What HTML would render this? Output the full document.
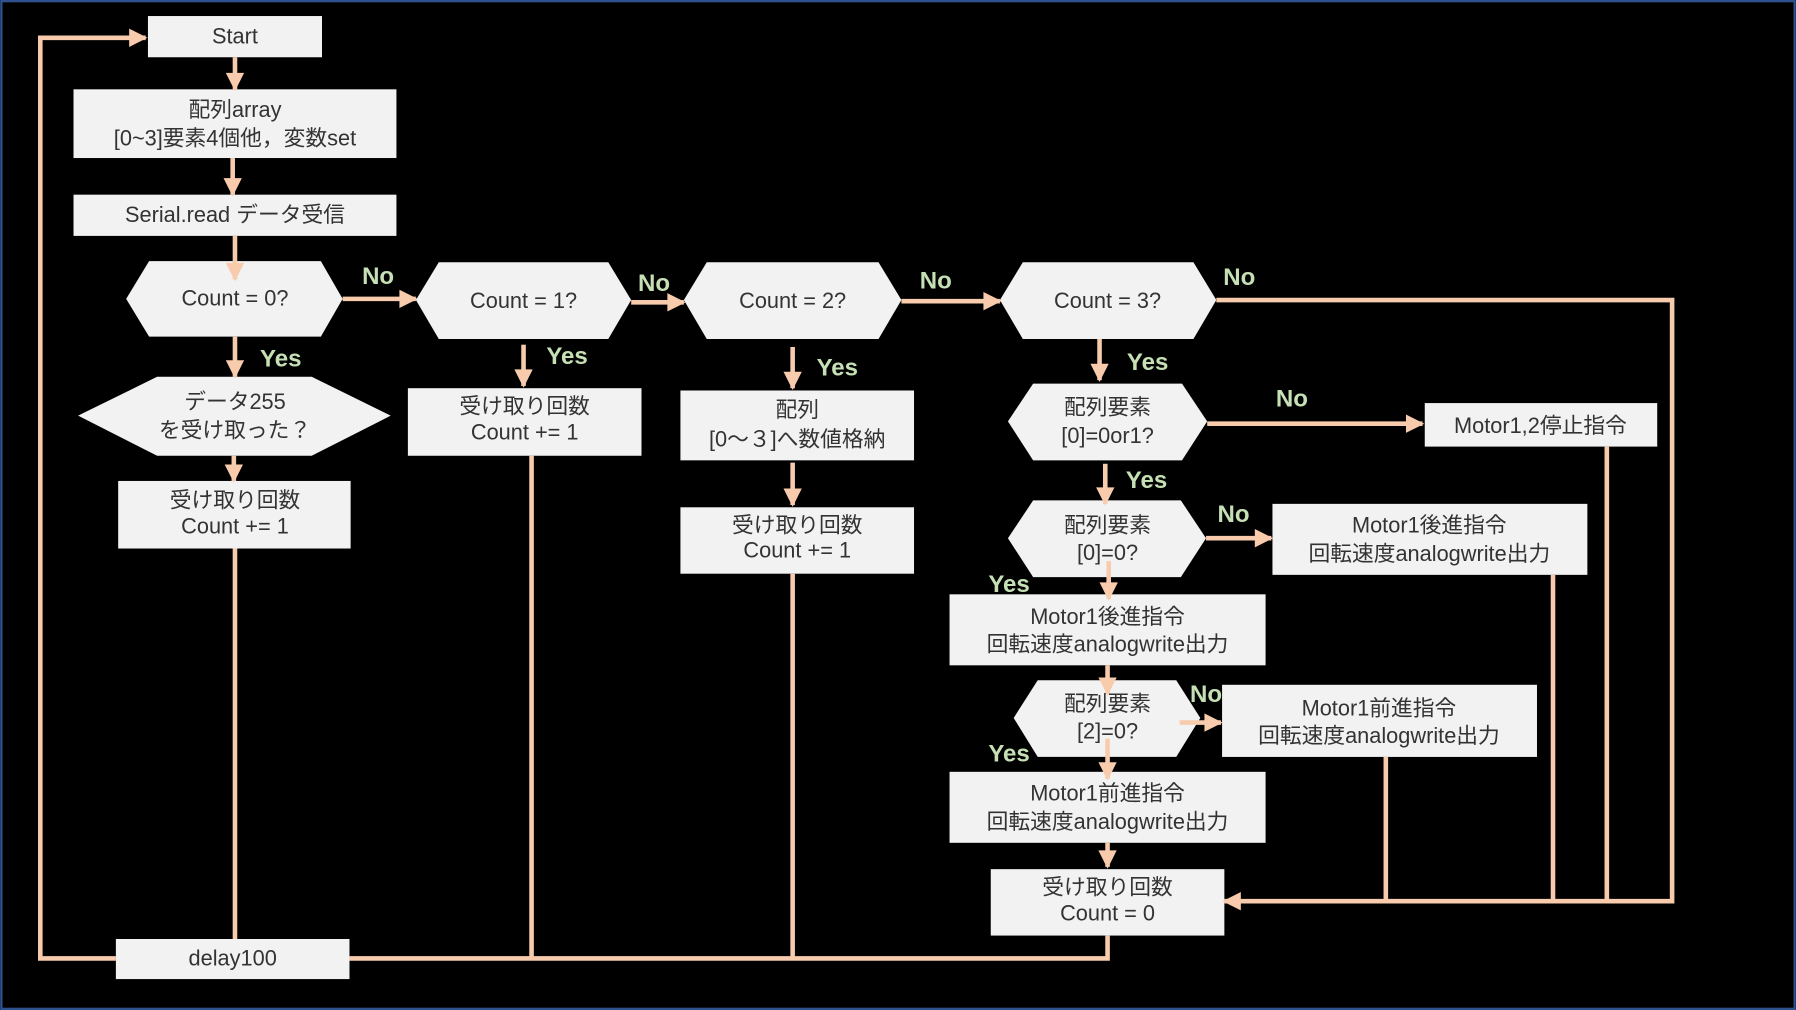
<!DOCTYPE html>
<html><head><meta charset="utf-8"><style>
html,body{margin:0;padding:0;background:#000;}
svg{display:block;}
text{font-family:"Liberation Sans","Noto Sans CJK JP",sans-serif;fill:#333;font-size:19px;text-anchor:middle;}
.l{fill:#C5E0B4;font-weight:bold;font-size:21px;}
</style></head><body>
<svg width="1796" height="1010" viewBox="0 0 1568 882" xmlns="http://www.w3.org/2000/svg">
<defs>
<marker id="b" viewBox="0 0 10 10" refX="9" refY="5" markerWidth="18" markerHeight="16" markerUnits="userSpaceOnUse" orient="auto"><path d="M0,0L10,5L0,10z" fill="#F8CBAD"/></marker></defs>
<rect x="1" y="1" width="1566" height="880" fill="#000" stroke="#2F528F" stroke-width="2"/>
<g fill="#F2F2F2">
<rect x="129" y="14" width="152" height="36"/>
<rect x="64" y="78" width="282" height="60"/>
<rect x="64" y="170" width="282" height="36"/>
<polygon points="110,261 130,228 280,228 299,261 280,294 130,294"/>
<polygon points="363,262 383,229 531,229 551,262 531,296 383,296"/>
<polygon points="597,262 617,229 767,229 787,262 767,296 617,296"/>
<polygon points="873,262 893,229 1042,229 1062,262 1042,296 893,296"/>
<polygon points="68,363 137,329 272,329 341,363 272,398 137,398"/>
<rect x="103" y="420" width="203" height="59"/>
<rect x="101" y="820" width="204" height="35"/>
<rect x="356" y="339" width="204" height="59"/>
<rect x="594" y="341" width="204" height="61"/>
<rect x="594" y="443" width="204" height="58"/>
<polygon points="880,368 902,335 1032,335 1054,368 1032,402 902,402"/>
<polygon points="880,470 902,437 1031,437 1053,470 1031,504 902,504"/>
<rect x="829" y="519" width="276" height="62"/>
<polygon points="885,627 906,594 1027,594 1048,627 1027,661 906,661"/>
<rect x="829" y="674" width="276" height="62"/>
<rect x="865" y="759" width="204" height="58"/>
<rect x="1244" y="352" width="203" height="38"/>
<rect x="1111" y="440" width="275" height="62"/>
<rect x="1067" y="598" width="275" height="63"/>
</g>
<g stroke="#F8CBAD" stroke-width="4" fill="none">
<polyline points="101,837 35,837 35,33 127,33" marker-end="url(#b)"/>
<line x1="205" y1="50" x2="205" y2="78" marker-end="url(#b)"/>
<line x1="203" y1="138" x2="203" y2="170" marker-end="url(#b)"/>
<line x1="205" y1="206" x2="205" y2="244" marker-end="url(#b)"/>
<line x1="299" y1="261" x2="363" y2="261" marker-end="url(#b)"/>
<line x1="551" y1="264" x2="597" y2="264" marker-end="url(#b)"/>
<line x1="787" y1="263" x2="873" y2="263" marker-end="url(#b)"/>
<polyline points="1062,262 1460,262 1460,787 1069,787" marker-end="url(#b)"/>
<line x1="205" y1="294" x2="205" y2="329" marker-end="url(#b)"/>
<line x1="204" y1="398" x2="204" y2="420" marker-end="url(#b)"/>
<line x1="205" y1="479" x2="205" y2="820"/>
<line x1="457" y1="301" x2="457" y2="337" marker-end="url(#b)"/>
<line x1="464" y1="398" x2="464" y2="837"/>
<line x1="692" y1="303" x2="692" y2="339" marker-end="url(#b)"/>
<line x1="692" y1="404" x2="692" y2="441" marker-end="url(#b)"/>
<line x1="692" y1="501" x2="692" y2="837"/>
<polyline points="305,837 967,837 967,817"/>
<line x1="960" y1="296" x2="960" y2="332" marker-end="url(#b)"/>
<line x1="1054" y1="370" x2="1242" y2="370" marker-end="url(#b)"/>
<line x1="965" y1="405" x2="965" y2="440" marker-end="url(#b)"/>
<line x1="1053" y1="470" x2="1110" y2="470" marker-end="url(#b)"/>
<line x1="968" y1="490" x2="968" y2="523" marker-end="url(#b)"/>
<line x1="967" y1="581" x2="967" y2="606" marker-end="url(#b)"/>
<line x1="1030" y1="631" x2="1066" y2="631" marker-end="url(#b)"/>
<line x1="967" y1="645" x2="967" y2="680" marker-end="url(#b)"/>
<line x1="967" y1="736" x2="967" y2="757" marker-end="url(#b)"/>
<line x1="1403" y1="390" x2="1403" y2="787"/>
<line x1="1356" y1="502" x2="1356" y2="787"/>
<line x1="1210" y1="661" x2="1210" y2="787"/>
</g>
<text x="205" y="38">Start</text>
<text x="205" y="102">配列array</text>
<text x="205" y="127">[0~3]要素4個他，変数set</text>
<text x="205" y="194">Serial.read データ受信</text>
<text x="205" y="267">Count = 0?</text>
<text x="457" y="269">Count = 1?</text>
<text x="692" y="269">Count = 2?</text>
<text x="967" y="269">Count = 3?</text>
<text x="205" y="357">データ255</text>
<text x="205" y="382">を受け取った？</text>
<text x="205" y="443" font-size="17">受け取り回数</text>
<text x="205" y="466" font-size="17">Count += 1</text>
<text x="203" y="843" font-size="17">delay100</text>
<text x="458" y="361" font-size="17">受け取り回数</text>
<text x="458" y="384" font-size="17">Count += 1</text>
<text x="696" y="364" font-size="18">配列</text>
<text x="696" y="390" font-size="18">[0〜３]へ数値格納</text>
<text x="696" y="465" font-size="17">受け取り回数</text>
<text x="696" y="487" font-size="17">Count += 1</text>
<text x="967" y="362">配列要素</text>
<text x="967" y="387">[0]=0or1?</text>
<text x="967" y="465">配列要素</text>
<text x="967" y="489">[0]=0?</text>
<text x="967" y="545" font-size="21">Motor1後進指令</text>
<text x="967" y="569">回転速度analogwrite出力</text>
<text x="967" y="621">配列要素</text>
<text x="967" y="645">[2]=0?</text>
<text x="967" y="699" font-size="21">Motor1前進指令</text>
<text x="967" y="724">回転速度analogwrite出力</text>
<text x="967" y="781" font-size="17">受け取り回数</text>
<text x="967" y="804" font-size="17">Count = 0</text>
<text x="1345" y="378" font-size="20">Motor1,2停止指令</text>
<text x="1248" y="465" font-size="21">Motor1後進指令</text>
<text x="1248" y="490">回転速度analogwrite出力</text>
<text x="1204" y="625" font-size="21">Motor1前進指令</text>
<text x="1204" y="649">回転速度analogwrite出力</text>
<text class="l" x="330" y="248">No</text>
<text class="l" x="571" y="254">No</text>
<text class="l" x="817" y="252">No</text>
<text class="l" x="1082" y="249">No</text>
<text class="l" x="1128" y="355">No</text>
<text class="l" x="1077" y="456">No</text>
<text class="l" x="1053" y="613">No</text>
<text class="l" x="245" y="320">Yes</text>
<text class="l" x="495" y="318">Yes</text>
<text class="l" x="731" y="328">Yes</text>
<text class="l" x="1002" y="323">Yes</text>
<text class="l" x="1001" y="426">Yes</text>
<text class="l" x="881" y="517">Yes</text>
<text class="l" x="881" y="665">Yes</text>
</svg>
</body></html>
